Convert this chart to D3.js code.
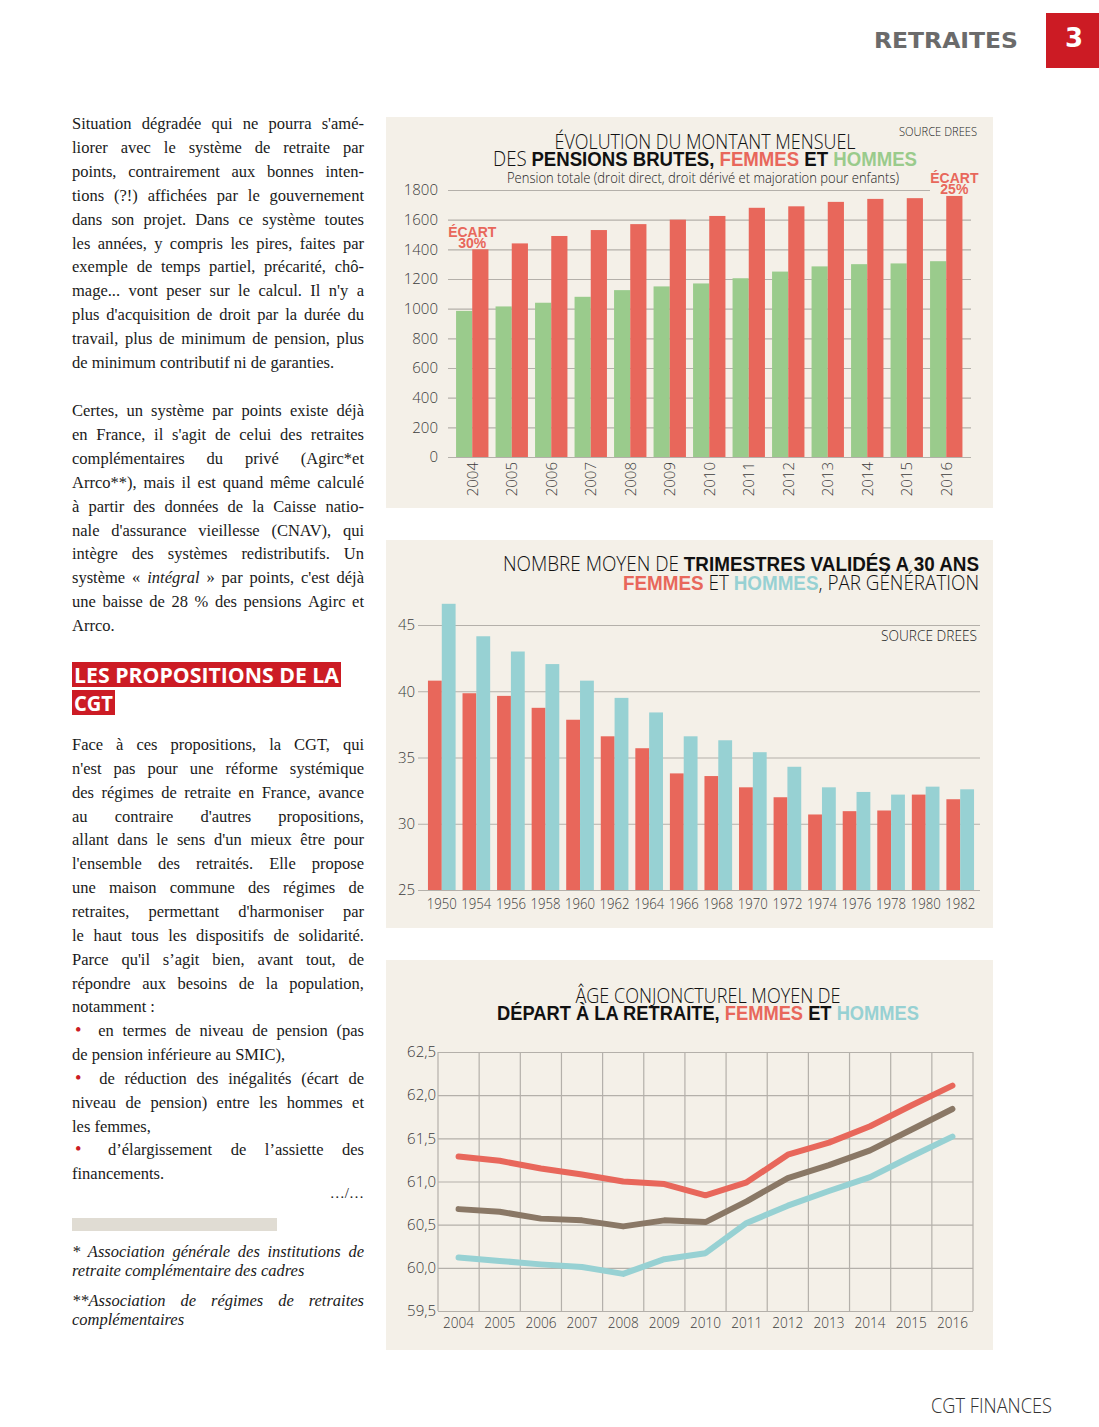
<!DOCTYPE html>
<html>
<head>
<meta charset="utf-8">
<script src="https://cdn.jsdelivr.net/npm/d3@7"></script>
<style>
body { margin: 0; background: #fff; }
svg { display: block; }
</style>
</head>
<body>
<svg id="page" width="1099" height="1427"></svg>
<script>
// --- donnees graphique 1 : pension mensuelle brute
var annees = ["2004", "2005", "2006", "2007", "2008", "2009", "2010", "2011", "2012", "2013", "2014", "2015", "2016"];
var pensionHommes = [985, 1015, 1040, 1080, 1125, 1150, 1170, 1205, 1250, 1285, 1300, 1305, 1320];
var pensionFemmes = [1400, 1440, 1490, 1530, 1570, 1600, 1625, 1680, 1690, 1720, 1740, 1745, 1760];
var ticksPension = [0, 200, 400, 600, 800, 1000, 1200, 1400, 1600, 1800];

// --- donnees graphique 2 : trimestres valides a 30 ans
var generations = ["1950", "1954", "1956", "1958", "1960", "1962", "1964", "1966", "1968", "1970", "1972", "1974", "1976", "1978", "1980", "1982"];
var trimFemmes = [40.8, 39.85, 39.65, 38.75, 37.85, 36.6, 35.7, 33.8, 33.6, 32.75, 32.0, 30.7, 30.95, 31.0, 32.2, 31.85];
var trimHommes = [46.6, 44.15, 43.0, 42.05, 40.8, 39.5, 38.4, 36.6, 36.3, 35.4, 34.3, 32.75, 32.4, 32.2, 32.8, 32.6];
var ticksTrim = [25, 30, 35, 40, 45];

// --- donnees graphique 3 : age conjoncturel de depart
var ageFemmes = [61.29, 61.24, 61.15, 61.08, 61.0, 60.97, 60.84, 60.99, 61.31, 61.45, 61.64, 61.88, 62.11];
var ageEnsemble = [60.68, 60.65, 60.57, 60.55, 60.48, 60.55, 60.53, 60.77, 61.04, 61.19, 61.36, 61.6, 61.84];
var ageHommes = [60.12, 60.08, 60.04, 60.01, 59.93, 60.1, 60.17, 60.52, 60.72, 60.89, 61.05, 61.29, 61.52];
var ticksAge = [59.5, 60, 60.5, 61, 61.5, 62, 62.5];

var ROUGE = "#e8675b", VERT = "#9acb8c", TURQ = "#97d1d3", BRUN = "#8a7866",
    GRILLE = "#b4b0aa", FOND = "#f4f0e8", TEXTE = "#3c3c3c";
var LIGHT = "'Open Sans', 'Liberation Sans Narrow', sans-serif";
var NARROW = "'Liberation Sans Narrow', 'Liberation Sans', sans-serif";
var SERIF = "'Liberation Serif', 'DejaVu Serif', serif";

var svg = d3.select("#page");
var fr = d3.formatLocale({decimal: ",", thousands: " ", grouping: [3], currency: ["", " €"]});

// titre a segments (light / gras / couleur) cale sur une largeur
function titre(g, x, y, anchor, segs, largeur, size) {
    var t = g.append("text")
        .attr("x", x).attr("y", y)
        .attr("text-anchor", anchor)
        .style("font-size", size + "px");
    segs.forEach(function (s) {
        t.append("tspan")
            .text(s[0])
            .style("font-family", s[1] ? NARROW : LIGHT)
            .style("font-weight", s[1] ? 700 : 300)
            .attr("fill", s[2] || "#111");
    });
    if (largeur) t.attr("textLength", largeur).attr("lengthAdjust", "spacingAndGlyphs");
    return t;
}

function styleAxe(ax, size) {
    ax.select(".domain").remove();
    ax.selectAll(".tick line").attr("stroke", GRILLE).attr("stroke-width", 1.2);
    ax.selectAll(".tick text")
        .attr("fill", TEXTE)
        .style("font-family", LIGHT)
        .style("font-weight", 300)
        .style("font-size", size + "px");
}

// ================= en-tete =================
svg.append("text").attr("x", 874).attr("y", 48)
    .attr("textLength", 144).attr("lengthAdjust", "spacingAndGlyphs")
    .style("font-family", "'DejaVu Sans', sans-serif").style("font-weight", 700)
    .style("font-size", "21px").attr("fill", "#6b6b6b")
    .text("RETRAITES");
svg.append("rect").attr("x", 1046).attr("y", 13).attr("width", 53).attr("height", 55).attr("fill", "#cc1b24");
svg.append("text").attr("x", 1074).attr("y", 47).attr("text-anchor", "middle")
    .style("font-family", "'DejaVu Sans', sans-serif").style("font-weight", 700)
    .style("font-size", "26px").attr("fill", "#fff").text("3");

svg.append("text").attr("x", 1052).attr("y", 1413).attr("text-anchor", "end")
    .attr("textLength", 121).attr("lengthAdjust", "spacingAndGlyphs")
    .style("font-family", LIGHT).style("font-weight", 300)
    .style("font-size", "21px").attr("fill", "#333")
    .text("CGT FINANCES");

// ================= graphique 1 =================
var g1 = svg.append("g");
g1.append("rect").attr("x", 386).attr("y", 117).attr("width", 607).attr("height", 391).attr("fill", FOND);

titre(g1, 705, 149, "middle", [["ÉVOLUTION DU MONTANT MENSUEL", false]], 301, 20);
titre(g1, 705, 166, "middle", [["DES ", false], ["PENSIONS BRUTES, ", true], ["FEMMES", true, ROUGE], [" ET ", true], ["HOMMES", true, VERT]], 424, 20);
g1.append("text").attr("x", 703).attr("y", 183).attr("text-anchor", "middle")
    .attr("textLength", 392).attr("lengthAdjust", "spacingAndGlyphs")
    .style("font-family", LIGHT).style("font-weight", 300).style("font-size", "14px").attr("fill", "#222")
    .text("Pension totale (droit direct, droit dérivé et majoration pour enfants)");
g1.append("text").attr("x", 977).attr("y", 136).attr("text-anchor", "end")
    .attr("textLength", 78).attr("lengthAdjust", "spacingAndGlyphs")
    .style("font-family", LIGHT).style("font-weight", 300).style("font-size", "12px").attr("fill", "#222")
    .text("SOURCE DREES");

var x1 = d3.scaleBand().domain(annees).range([452.5, 966]).paddingInner(0.18).paddingOuter(0.09);
var xs1 = d3.scaleBand().domain([0, 1]).range([0, x1.bandwidth()]);
var y1 = d3.scaleLinear().domain([0, 1800]).range([457, 190]);

var ay1 = g1.append("g").attr("transform", "translate(448,0)")
    .call(d3.axisLeft(y1).tickValues(ticksPension).tickSize(-523).tickPadding(10).tickFormat(d3.format("d")));
styleAxe(ay1, 15);
ay1.selectAll(".tick").filter(function (d) { return d === 1800; }).select("line").attr("x2", 482);

var groupes1 = g1.selectAll("g.an").data(annees).enter().append("g")
    .attr("class", "an")
    .attr("transform", function (d) { return "translate(" + x1(d) + ",0)"; });
groupes1.append("rect")
    .attr("x", xs1(0)).attr("width", xs1.bandwidth())
    .attr("y", function (d, i) { return y1(pensionHommes[i]); })
    .attr("height", function (d, i) { return y1(0) - y1(pensionHommes[i]); })
    .attr("fill", VERT);
groupes1.append("rect")
    .attr("x", xs1(1)).attr("width", xs1.bandwidth())
    .attr("y", function (d, i) { return y1(pensionFemmes[i]); })
    .attr("height", function (d, i) { return y1(0) - y1(pensionFemmes[i]); })
    .attr("fill", ROUGE);

var ax1 = g1.append("g").attr("transform", "translate(0,457)")
    .call(d3.axisBottom(x1).tickSize(0));
styleAxe(ax1, 15);
ax1.selectAll(".tick text")
    .attr("y", 0).attr("x", -5).attr("dy", "0.35em")
    .attr("transform", "rotate(-90)")
    .style("text-anchor", "end");

function ecart(g, cx, yTop, pct) {
    var t = g.append("text").attr("text-anchor", "middle")
        .style("font-family", NARROW).style("font-weight", 700).style("font-size", "14px")
        .attr("fill", ROUGE);
    t.append("tspan").attr("x", cx).attr("y", yTop).text("ÉCART");
    t.append("tspan").attr("x", cx).attr("y", yTop + 11).text(pct);
}
ecart(g1, x1("2004") + x1.bandwidth() / 2, 237, "30%");
ecart(g1, x1("2016") + xs1(1) + xs1.bandwidth() / 2, 183, "25%");

// ================= graphique 2 =================
var g2 = svg.append("g");
g2.append("rect").attr("x", 386).attr("y", 540).attr("width", 607).attr("height", 388).attr("fill", FOND);

titre(g2, 979, 571, "end", [["NOMBRE MOYEN DE ", false], ["TRIMESTRES VALIDÉS A 30 ANS", true]], 476, 20);
titre(g2, 979, 590, "end", [["FEMMES", true, ROUGE], [" ET ", false], ["HOMMES", true, TURQ], [", PAR GÉNÉRATION", false]], 356, 20);

var x2 = d3.scaleBand().domain(generations).range([424.5, 977.5]).paddingInner(0.2).paddingOuter(0.1);
var xs2 = d3.scaleBand().domain([0, 1]).range([0, x2.bandwidth()]);
var y2 = d3.scaleLinear().domain([25, 45]).range([890, 625]);

var ay2 = g2.append("g").attr("transform", "translate(418,0)")
    .call(d3.axisLeft(y2).tickValues(ticksTrim).tickSize(-562).tickPadding(3));
styleAxe(ay2, 15);

g2.append("text").attr("x", 977).attr("y", 641).attr("text-anchor", "end")
    .attr("textLength", 96).attr("lengthAdjust", "spacingAndGlyphs")
    .style("font-family", LIGHT).style("font-weight", 300).style("font-size", "15px").attr("fill", "#222")
    .text("SOURCE DREES");

var groupes2 = g2.selectAll("g.gen").data(generations).enter().append("g")
    .attr("class", "gen")
    .attr("transform", function (d) { return "translate(" + x2(d) + ",0)"; });
groupes2.append("rect")
    .attr("x", xs2(0)).attr("width", xs2.bandwidth())
    .attr("y", function (d, i) { return y2(trimFemmes[i]); })
    .attr("height", function (d, i) { return y2(25) - y2(trimFemmes[i]); })
    .attr("fill", ROUGE);
groupes2.append("rect")
    .attr("x", xs2(1)).attr("width", xs2.bandwidth())
    .attr("y", function (d, i) { return y2(trimHommes[i]); })
    .attr("height", function (d, i) { return y2(25) - y2(trimHommes[i]); })
    .attr("fill", TURQ);

var ax2 = g2.append("g").attr("transform", "translate(0,890)")
    .call(d3.axisBottom(x2).tickSize(0).tickPadding(9));
styleAxe(ax2, 14);
ax2.selectAll(".tick text").attr("textLength", 30).attr("lengthAdjust", "spacingAndGlyphs");

// ================= graphique 3 =================
var g3 = svg.append("g");
g3.append("rect").attr("x", 386).attr("y", 960).attr("width", 607).attr("height", 390).attr("fill", FOND);

titre(g3, 708, 1003, "middle", [["ÂGE CONJONCTUREL MOYEN DE", false]], 265, 20);
titre(g3, 708, 1020, "middle", [["DÉPART À LA RETRAITE, ", true], ["FEMMES", true, ROUGE], [" ET ", true], ["HOMMES", true, TURQ]], 422, 20);

var x3 = d3.scaleBand().domain(annees).range([438, 973]);
var y3 = d3.scaleLinear().domain([59.5, 62.5]).range([1311, 1052]);

var ay3 = g3.append("g").attr("transform", "translate(438,0)")
    .call(d3.axisLeft(y3).tickValues(ticksAge).tickSize(-535).tickPadding(2).tickFormat(fr.format(".1f")));
styleAxe(ay3, 15);

g3.selectAll("line.vgrid").data(annees.concat(["fin"])).enter().append("line")
    .attr("class", "vgrid")
    .attr("x1", function (d) { return d === "fin" ? x3.range()[1] : x3(d); })
    .attr("x2", function (d) { return d === "fin" ? x3.range()[1] : x3(d); })
    .attr("y1", y3(62.5)).attr("y2", y3(59.5))
    .attr("stroke", GRILLE).attr("stroke-width", 1.2);

var ligne3 = d3.line()
    .x(function (d, i) { return x3(annees[i]) + x3.bandwidth() / 2; })
    .y(function (d) { return y3(d); });
[[ageHommes, TURQ], [ageEnsemble, BRUN], [ageFemmes, ROUGE]].forEach(function (s) {
    g3.append("path").datum(s[0])
        .attr("d", ligne3)
        .attr("fill", "none")
        .attr("stroke", s[1])
        .attr("stroke-width", 6)
        .attr("stroke-linejoin", "round")
        .attr("stroke-linecap", "round");
});

var ax3 = g3.append("g").attr("transform", "translate(0,1311)")
    .call(d3.axisBottom(x3).tickSize(0).tickPadding(6));
styleAxe(ax3, 15);
ax3.selectAll(".tick text").attr("textLength", 31).attr("lengthAdjust", "spacingAndGlyphs");

// ================= colonne de texte =================
var colX = 72, colW = 292;
var gt = svg.append("g").style("font-family", SERIF).attr("fill", "#1a1a1a");

// 1 = justifiee ; "_mot" = italique ; "•" = puce rouge suivie d'un blanc plus large
function bloc(lignes, y0, pas, size, italique) {
    lignes.forEach(function (l, k) {
        var justif = l[1];
        var t = gt.append("text").attr("y", y0 + k * pas).style("font-size", size + "px");
        if (italique) t.style("font-style", "italic");
        var mots = l[0].split(" ");
        var puce = mots[0] === "•";
        var spans = mots.map(function (m) {
            var s = t.append("tspan");
            if (m.charAt(0) === "_") { s.style("font-style", "italic"); m = m.slice(1); }
            if (m === "•") s.attr("fill", "#cc1b24").style("font-size", (size + 2) + "px");
            s.text(m);
            return s;
        });
        var larg = spans.map(function (s) { return s.node().getComputedTextLength(); });
        var debut = colX + (puce ? 3 : 0);
        var extra = puce ? 8 : 0;
        var total = d3.sum(larg) + extra + (debut - colX);
        var espace = size * 0.25;
        if (justif && mots.length > 1) espace = (colW - total) / (mots.length - 1);
        var cx = debut;
        spans.forEach(function (s, i) {
            s.attr("x", cx);
            cx += larg[i] + espace + (puce && i === 0 ? extra : 0);
        });
    });
}

bloc([
    ["Situation dégradée qui ne pourra s'amé-", 1],
    ["liorer avec le système de retraite par", 1],
    ["points, contrairement aux bonnes inten-", 1],
    ["tions (?!) affichées par le gouvernement", 1],
    ["dans son projet. Dans ce système toutes", 1],
    ["les années, y compris les pires, faites par", 1],
    ["exemple de temps partiel, précarité, chô-", 1],
    ["mage... vont peser sur le calcul. Il n'y a", 1],
    ["plus d'acquisition de droit par la durée du", 1],
    ["travail, plus de minimum de pension, plus", 1],
    ["de minimum contributif ni de garanties.", 0]
], 129, 23.9, 16.5);

bloc([
    ["Certes, un système par points existe déjà", 1],
    ["en France, il s'agit de celui des retraites", 1],
    ["complémentaires du privé (Agirc*et", 1],
    ["Arrco**), mais il est quand même calculé", 1],
    ["à partir des données de la Caisse natio-", 1],
    ["nale d'assurance vieillesse (CNAV), qui", 1],
    ["intègre des systèmes redistributifs. Un", 1],
    ["système « _intégral » par points, c'est déjà", 1],
    ["une baisse de 28 % des pensions Agirc et", 1],
    ["Arrco.", 0]
], 416, 23.9, 16.5);

// intertitre
[["LES PROPOSITIONS DE LA", 662, 265, 269], ["CGT", 690, 39, 43]].forEach(function (h) {
    gt.append("rect").attr("x", colX).attr("y", h[1]).attr("height", 25).attr("width", h[3]).attr("fill", "#cc1b24");
    gt.append("text").attr("x", colX + 2).attr("y", h[1] + 21)
        .attr("textLength", h[2]).attr("lengthAdjust", "spacingAndGlyphs")
        .style("font-family", "'Open Sans', 'Liberation Sans', sans-serif").style("font-weight", 700)
        .style("font-size", "21px").attr("fill", "#fff")
        .text(h[0]);
});

bloc([
    ["Face à ces propositions, la CGT, qui", 1],
    ["n'est pas pour une réforme systémique", 1],
    ["des régimes de retraite en France, avance", 1],
    ["au contraire d'autres propositions,", 1],
    ["allant dans le sens d'un mieux être pour", 1],
    ["l'ensemble des retraités. Elle propose", 1],
    ["une maison commune des régimes de", 1],
    ["retraites, permettant d'harmoniser par", 1],
    ["le haut tous les dispositifs de solidarité.", 1],
    ["Parce qu'il s’agit bien, avant tout, de", 1],
    ["répondre aux besoins de la population,", 1],
    ["notamment :", 0],
    ["• en termes de niveau de pension (pas", 1],
    ["de pension inférieure au SMIC),", 0],
    ["• de réduction des inégalités (écart de", 1],
    ["niveau de pension) entre les hommes et", 1],
    ["les femmes,", 0],
    ["• d’élargissement de l’assiette des", 1],
    ["financements.", 0]
], 750, 23.85, 16.5);

gt.append("text").attr("x", colX + colW).attr("y", 1198).attr("text-anchor", "end")
    .style("font-size", "15px").text("…/…");

gt.append("rect").attr("x", 72).attr("y", 1218).attr("width", 205).attr("height", 13).attr("fill", "#e0dcd3");

bloc([
    ["* Association générale des institutions de", 1],
    ["retraite complémentaire des cadres", 0]
], 1257, 19, 16.5, true);
bloc([
    ["**Association de régimes de retraites", 1],
    ["complémentaires", 0]
], 1306, 19, 16.5, true);
</script>
</body>
</html>
